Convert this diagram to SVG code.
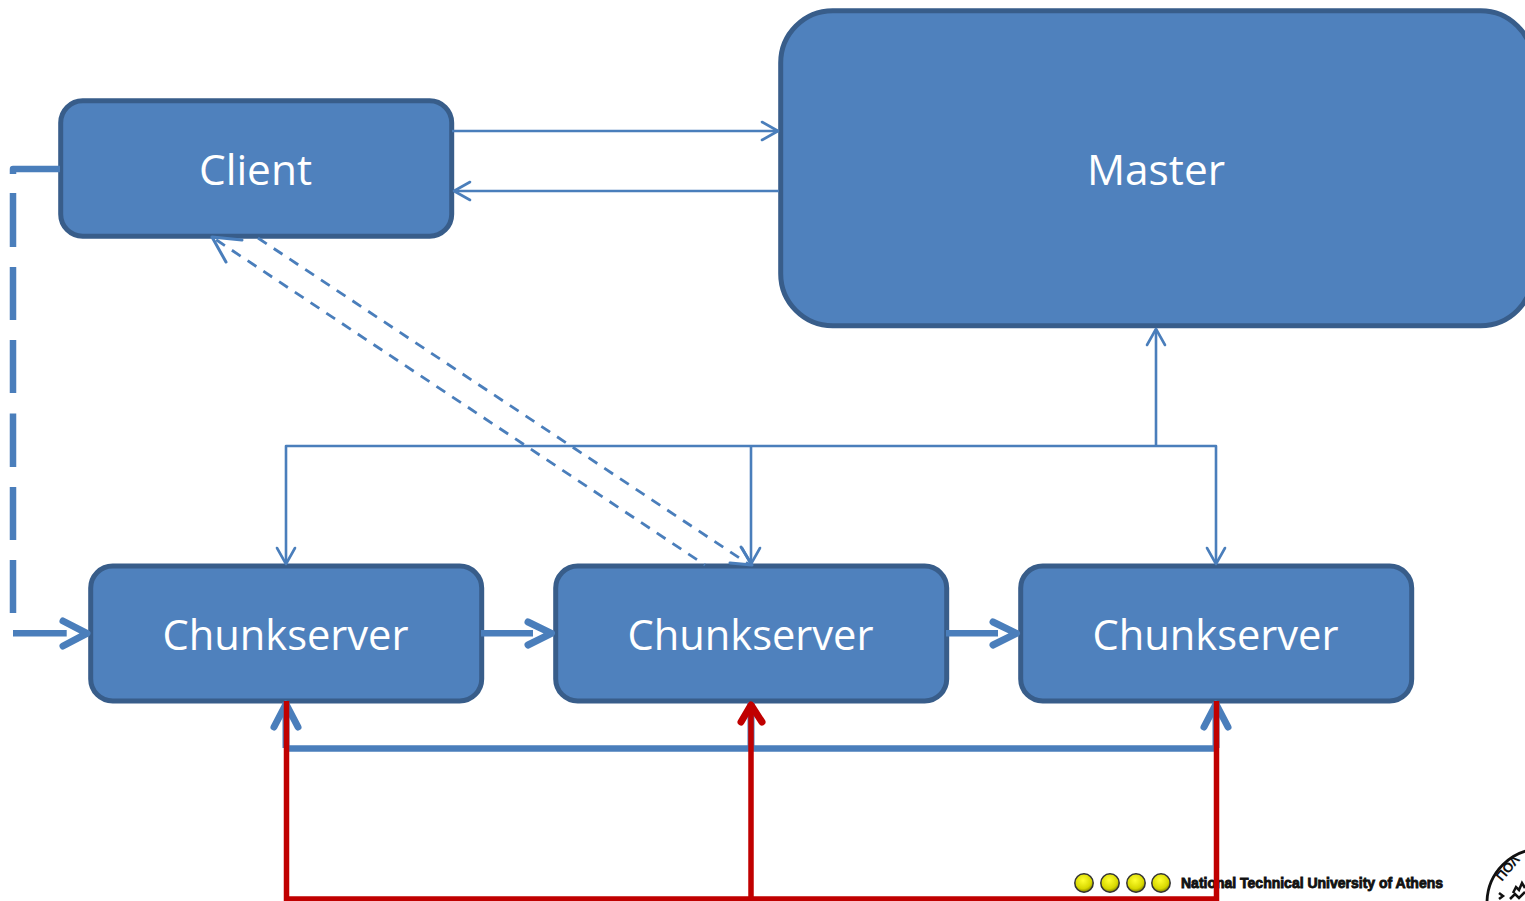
<svg xmlns="http://www.w3.org/2000/svg" width="1525" height="901" viewBox="0 0 1525 901">
<style>
.n{fill:#4f81bd;stroke:#385d8a;stroke-width:5}
.t{font-family:"Open Sans","Noto Sans",sans-serif;font-size:42px;fill:#fff;text-anchor:middle}
.c{fill:none;stroke:#4a7ebb;stroke-linejoin:round}
.th{stroke-width:2.6}
.d{stroke-width:2.8;stroke-dasharray:10.5 8.4}
.hd{stroke-linecap:round}
.m{stroke-width:6.5}
.a{stroke-width:7;stroke-linecap:round}
.r{fill:none;stroke:#c00000;stroke-width:5.5}
.b{fill:url(#ball);stroke:#333;stroke-width:1.5}
.s{font-family:"Liberation Sans",sans-serif;font-weight:bold;font-size:13.500px;fill:#111}
</style>
<defs><radialGradient id="ball" cx="0.45" cy="0.35" r="0.65"><stop offset="0" stop-color="#ffff30"/><stop offset="0.7" stop-color="#d8d800"/><stop offset="1" stop-color="#808000"/></radialGradient></defs>
<rect width="1525" height="901" fill="#fff"/>
<g id="client"><rect class="n" x="60.700" y="100.700" width="391" height="135.500" rx="22"/><text class="t" x="255.500" y="185" textLength="113" lengthAdjust="spacingAndGlyphs">Client</text></g>
<g id="master"><rect class="n" x="780.700" y="10.700" width="752" height="315" rx="52"/><text class="t" x="1156" y="185" textLength="138" lengthAdjust="spacingAndGlyphs">Master</text></g>
<g id="chunkserver1"><rect class="n" x="90.700" y="566" width="391" height="135" rx="22"/><text class="t" x="285.500" y="650" textLength="246" lengthAdjust="spacingAndGlyphs">Chunkserver</text></g>
<g id="chunkserver2"><rect class="n" x="555.700" y="566" width="391" height="135" rx="22"/><text class="t" x="750.500" y="650" textLength="246" lengthAdjust="spacingAndGlyphs">Chunkserver</text></g>
<g id="chunkserver3"><rect class="n" x="1020.700" y="566" width="391" height="135" rx="22"/><text class="t" x="1215.500" y="650" textLength="246" lengthAdjust="spacingAndGlyphs">Chunkserver</text></g>
<g id="logo">
<circle class="b" cx="1084" cy="883" r="9.200"/><circle class="b" cx="1110" cy="883" r="9.200"/><circle class="b" cx="1136" cy="883" r="9.200"/><circle class="b" cx="1161" cy="883" r="9.200"/>
<text x="1181" y="888" font-family="'Liberation Sans',sans-serif" font-weight="bold" font-size="15" fill="#111" stroke="#111" stroke-width="0.9" textLength="262" lengthAdjust="spacingAndGlyphs">National Technical University of Athens</text>
<circle cx="1541" cy="903" r="54" fill="none" stroke="#111" stroke-width="2.800"/>
<text class="s" transform="translate(1502 882) rotate(-50)">ΠΟΛ</text>
<path d="M1499 893l4 3l-4 3M1513 893l3-6l3 3l3-7l3 5M1510 899l5-5l4 4l6-6" fill="none" stroke="#111" stroke-width="2.500"/>
</g>
<g id="connectors">
<path class="c th" d="M452 131H778"/><path class="c th hd" d="M762 122L778 131L762 140"/>
<path class="c th" d="M779 191H454"/><path class="c th hd" d="M470 182L454 191L470 200"/>
<path class="c d" d="M258 238L750 565"/>
<path class="c d" stroke-dashoffset="13.900" d="M212 237L705 565"/>
<path class="c th hd" style="stroke-width:3" d="M226 262L212 237L242 240"/>
<path class="c th hd" style="stroke-width:3" d="M741 547L752 565L730 563"/>
<path class="c th" d="M1156 445V329"/><path class="c th hd" d="M1147 345L1156 329L1165 345"/>
<path class="c th" d="M286 564V446H1216V564"/>
<path class="c th" d="M751 446V564"/>
<path class="c th hd" d="M277 548L286 564L295 548"/>
<path class="c th hd" d="M742 548L751 564L760 548"/>
<path class="c th hd" d="M1207 548L1216 564L1225 548"/>
<path class="c m" d="M60 169H13V174M13 193V247M13 267V320M13 340V393M13 413.500V467M13 487V540M13 560V613"/>
<path class="c m" d="M13 633.300H66.700"/><path class="c a" d="M63 621L87 633.300L63 646"/>
<path class="c m" d="M481 633.300H533"/><path class="c a" d="M528 622L551.500 633.300L528 645"/>
<path class="c m" d="M946 633.300H998"/><path class="c a" d="M993 622L1016.500 633.300L993 645"/>
<path class="c m" d="M286 748.500H1216"/>
<path class="c" style="stroke-width:7" d="M286 702V748M751 702V748M1216 702V748"/>
<path class="c a" d="M274 727L286 704L298 727"/>
<path class="c a" d="M1204 727L1216 704L1228 727"/>
<path class="r" d="M286.500 701V899H1216.500V701"/>
<path class="r" d="M751 899V705"/>
<path class="r" style="stroke-width:7;stroke-linecap:round;stroke-linejoin:round" d="M741 722L751 705L762 722"/>
</g>
</svg>
